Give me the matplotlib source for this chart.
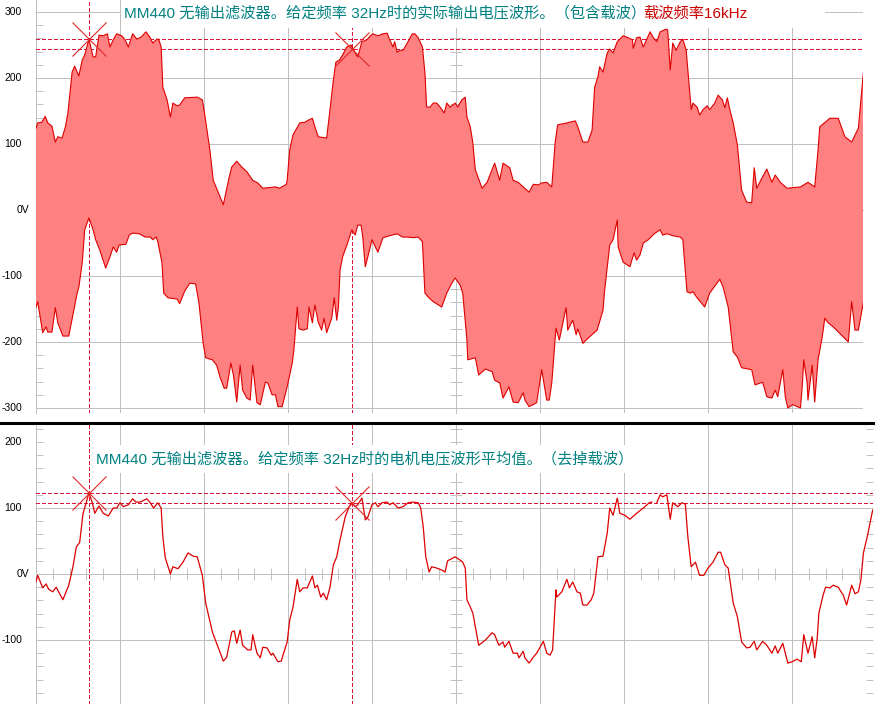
import numpy as np
import matplotlib
matplotlib.use("Agg")
import matplotlib.pyplot as plt
from matplotlib.ticker import MultipleLocator
from matplotlib.patches import Rectangle
from matplotlib.lines import Line2D

# 上图：含载波的输出电压（包络上沿 / 下沿），时间 ms，电压 V
t_up = [0.0, 0.2, 0.7, 1.1, 1.4, 1.9, 2.3, 2.6, 3.1, 3.5,
        3.8, 4.3, 4.6, 5.1, 5.5, 5.8, 6.3, 6.8, 7.1, 7.5,
        8.0, 8.5, 8.8, 9.2, 9.6, 10.2, 10.6, 11.0, 11.5, 12.0,
        12.5, 13.1, 13.6, 13.9, 14.4, 14.6, 14.9, 15.1, 15.6, 16.0,
        16.3, 16.8, 17.1, 17.7, 19.2, 19.8, 20.0, 20.4, 20.7, 21.1,
        22.3, 23.0, 23.3, 23.9, 24.5, 25.1, 25.8, 26.4, 27.0, 28.5,
        29.0, 29.8, 29.9, 30.2, 30.6, 31.4, 32.0, 32.4, 32.9, 33.2,
        33.6, 34.6, 35.0, 35.4, 35.7, 36.1, 36.5, 37.0, 37.5, 38.0,
        38.3, 38.8, 39.4, 39.8, 40.1, 40.7, 41.3, 41.8, 42.1, 42.5,
        42.7, 43.0, 43.3, 43.7, 44.2, 44.8, 45.1, 45.5, 46.0, 46.3,
        46.5, 46.9, 47.3, 47.7, 48.1, 48.6, 48.9, 49.3, 49.9, 50.2,
        50.7, 51.1, 51.3, 51.7, 52.0, 52.3, 53.1, 53.7, 54.6, 55.2,
        55.6, 56.4, 56.8, 57.4, 58.0, 58.7, 59.2, 59.8, 60.2, 60.8,
        61.4, 61.8, 62.1, 63.2, 64.2, 64.5, 65.1, 65.7, 66.2, 66.5,
        66.9, 67.1, 67.5, 68.0, 68.3, 68.7, 69.2, 69.9, 70.5, 71.0,
        71.1, 71.5, 71.9, 72.3, 73.1, 73.5, 73.9, 74.3, 75.0, 75.2,
        75.5, 75.8, 76.2, 76.7, 77.0, 77.4, 77.6, 78.0, 78.2, 78.7,
        79.0, 79.4, 79.9, 80.2, 80.8, 81.2, 81.7, 82.0, 82.3, 82.6,
        83.0, 83.5, 84.0, 84.6, 85.2, 85.5, 85.8, 86.4, 87.0, 87.6,
        88.0, 88.6, 89.4, 91.0, 91.9, 92.7, 93.1, 93.3, 94.5, 95.5,
        96.3, 97.1, 97.9, 98.5]
v_up = [124, 132, 133, 142, 132, 127, 103, 111, 109, 126,
        147, 209, 218, 203, 227, 235, 259, 232, 232, 265,
        264, 267, 247, 258, 267, 264, 258, 247, 267, 259,
        262, 270, 261, 253, 259, 259, 247, 186, 167, 141,
        162, 158, 159, 170, 171, 167, 152, 117, 91, 45,
        8, 50, 65, 74, 65, 58, 45, 41, 33, 35,
        33, 39, 45, 91, 114, 132, 133, 136, 139, 126,
        111, 109, 152, 197, 224, 227, 235, 247, 250, 238,
        232, 255, 258, 264, 267, 264, 267, 268, 258, 247,
        255, 239, 242, 242, 253, 267, 267, 261, 247, 208,
        156, 156, 162, 162, 156, 147, 162, 156, 162, 156,
        167, 171, 141, 126, 102, 61, 33, 42, 71, 45,
        71, 64, 45, 42, 35, 27, 39, 38, 41, 42,
        35, 102, 129, 132, 135, 126, 103, 103, 121, 186,
        202, 217, 209, 238, 244, 238, 255, 264, 261, 258,
        245, 261, 262, 247, 270, 261, 255, 270, 274, 273,
        212, 253, 242, 255, 259, 242, 212, 152, 162, 156,
        144, 152, 158, 152, 162, 174, 167, 155, 170, 152,
        132, 98, 30, 12, 11, 64, 33, 48, 62, 42,
        53, 42, 33, 35, 42, 35, 91, 126, 139, 139,
        111, 103, 124, 209]

t_lo = [0.0, 0.2, 0.8, 1.2, 1.4, 1.9, 2.3, 2.6, 3.2, 3.9,
        4.5, 4.9, 5.1, 5.5, 5.8, 6.3, 6.8, 7.1, 7.6, 8.3,
        8.8, 9.2, 9.6, 9.9, 10.7, 11.1, 11.5, 12.3, 13.0, 13.6,
        13.9, 14.3, 14.5, 15.0, 15.2, 15.7, 16.8, 17.1, 17.7, 18.3,
        19.0, 19.4, 19.9, 20.2, 21.0, 21.5, 21.9, 22.4, 22.7, 23.2,
        23.5, 23.9, 24.3, 24.6, 25.1, 25.5, 25.8, 26.3, 26.7, 27.3,
        27.6, 28.1, 28.5, 28.8, 29.3, 29.9, 30.5, 30.7, 31.1, 31.3,
        31.8, 32.3, 32.5, 32.9, 33.2, 33.6, 34.0, 34.3, 34.6, 35.2,
        35.5, 35.8, 36.0, 36.2, 36.5, 37.1, 37.6, 38.0, 38.3, 38.7,
        38.9, 39.2, 39.5, 40.0, 40.1, 40.7, 41.3, 42.1, 43.0, 43.6,
        44.3, 44.9, 45.5, 46.0, 46.3, 46.7, 47.3, 48.3, 48.9, 49.5,
        49.9, 50.5, 50.8, 51.3, 51.4, 52.3, 52.7, 53.5, 54.3, 54.6,
        55.2, 55.6, 56.3, 56.8, 57.4, 58.0, 58.2, 58.7, 59.6, 60.2,
        60.8, 61.1, 61.4, 61.9, 62.3, 63.1, 63.3, 63.9, 64.3, 64.5,
        65.1, 66.0, 66.8, 67.5, 67.7, 68.3, 68.7, 69.2, 69.3, 69.9,
        70.7, 71.2, 71.5, 71.9, 72.3, 72.9, 73.6, 74.3, 74.6, 75.1,
        75.8, 76.7, 77.0, 77.5, 77.9, 78.2, 78.7, 79.6, 80.2, 81.4,
        81.8, 82.4, 83.0, 83.5, 84.0, 85.2, 85.6, 86.5, 87.0, 87.6,
        88.0, 88.3, 88.9, 89.2, 89.5, 90.1, 91.0, 91.2, 91.4, 91.8,
        91.9, 92.4, 92.7, 93.1, 93.6, 93.9, 94.3, 94.9, 96.7, 97.1,
        97.5, 97.9, 98.5]
v_lo = [-147, -139, -186, -177, -185, -185, -148, -171, -191, -191,
        -152, -126, -117, -80, -30, -12, -30, -45, -61, -88,
        -71, -56, -64, -53, -52, -38, -35, -36, -41, -41,
        -45, -41, -48, -80, -126, -133, -135, -142, -123, -111,
        -112, -141, -202, -224, -227, -235, -253, -270, -270, -232,
        -250, -291, -235, -273, -285, -288, -235, -292, -295, -261,
        -262, -280, -280, -298, -298, -268, -232, -212, -147, -180,
        -182, -180, -147, -171, -144, -170, -182, -164, -186, -164,
        -133, -167, -147, -91, -71, -50, -30, -38, -23, -23,
        -41, -86, -71, -45, -48, -64, -42, -39, -36, -41,
        -41, -42, -41, -48, -126, -132, -139, -147, -126, -111,
        -103, -114, -126, -197, -227, -224, -250, -241, -245, -258,
        -262, -285, -268, -291, -292, -277, -288, -298, -292, -242,
        -288, -288, -262, -179, -197, -148, -182, -167, -189, -180,
        -202, -191, -182, -152, -121, -53, -45, -15, -56, -79,
        -86, -65, -76, -68, -50, -45, -36, -30, -38, -36,
        -39, -41, -45, -124, -126, -124, -133, -147, -126, -105,
        -117, -147, -215, -223, -239, -242, -265, -261, -283, -285,
        -273, -283, -242, -283, -300, -295, -300, -270, -227, -262,
        -288, -235, -291, -227, -192, -164, -171, -177, -200, -139,
        -182, -182, -139]

# 下图：去掉载波后的电机电压平均值
t_avg = [0.0, 0.2, 0.8, 1.2, 1.5, 2.0, 2.4, 3.2, 3.9, 4.4,
         4.8, 5.2, 5.6, 6.0, 6.3, 6.7, 7.0, 7.5, 8.0, 8.6,
         9.2, 9.6, 10.0, 10.4, 11.0, 11.5, 11.9, 12.4, 13.2, 13.6,
         14.0, 14.5, 14.9, 15.1, 15.4, 16.0, 16.3, 16.9, 17.5, 18.1,
         18.7, 19.2, 19.8, 20.2, 21.0, 21.5, 22.3, 22.7, 23.3, 23.6,
         23.9, 24.3, 24.6, 25.2, 25.6, 25.8, 26.3, 26.7, 27.0, 27.5,
         28.0, 28.2, 28.8, 29.2, 29.4, 29.9, 30.2, 30.6, 31.1, 31.4,
         31.8, 32.3, 32.9, 33.2, 33.5, 33.9, 34.2, 34.6, 35.0, 35.4,
         35.8, 36.2, 36.8, 37.3, 37.6, 38.0, 38.3, 38.8, 39.2, 39.5,
         40.0, 40.4, 40.7, 41.2, 41.8, 42.1, 42.5, 43.1, 43.7, 44.3,
         44.9, 45.5, 45.8, 46.1, 46.4, 46.8, 47.1, 47.7, 48.3, 48.7,
         49.0, 49.9, 50.5, 50.8, 51.1, 51.3, 51.7, 52.0, 52.7, 53.5,
         54.3, 54.6, 55.1, 55.6, 55.8, 56.3, 56.8, 57.3, 57.5, 58.0,
         58.2, 58.7, 59.2, 59.6, 60.4, 60.8, 61.2, 61.5, 61.9, 62.0,
         62.6, 63.2, 63.5, 63.9, 64.4, 64.8, 65.1, 65.6, 66.1, 66.4,
         66.9, 67.5, 68.0, 68.3, 68.7, 69.2, 69.5, 70.1, 70.7, 71.5,
         72.3, 73.0, 73.3, 73.6, 73.9, 74.3, 74.6, 75.1, 75.5, 75.8,
         76.4, 76.9, 77.3, 77.6, 78.0, 78.5, 79.0, 79.5, 80.0, 80.6,
         81.2, 81.5, 82.0, 82.4, 83.0, 83.5, 84.0, 84.6, 85.0, 85.5,
         85.8, 86.5, 87.0, 87.6, 88.0, 88.3, 88.9, 89.5, 90.0, 90.6,
         91.1, 91.4, 91.9, 92.4, 92.7, 93.0, 93.2, 93.7, 94.0, 94.5,
         94.9, 95.5, 96.1, 96.5, 97.1, 97.5, 97.9, 98.2, 98.5, 99.0,
         99.6]
v_avg = [-12, -2, -21, -15, -23, -27, -20, -39, -17, 11,
         41, 48, 92, 109, 123, 108, 92, 103, 92, 88,
         100, 100, 108, 102, 105, 114, 109, 109, 114, 108,
         100, 108, 100, 56, 24, 0, 11, 8, 18, 32,
         27, 26, -2, -44, -88, -105, -132, -126, -88, -86,
         -105, -85, -108, -115, -115, -92, -120, -127, -111, -112,
         -123, -120, -133, -132, -123, -103, -70, -50, -8, -27,
         -21, -21, -3, -21, -17, -35, -29, -39, -20, 14,
         26, 52, 86, 103, 108, 102, 105, 115, 82, 86,
         105, 108, 102, 108, 109, 105, 108, 100, 102, 108,
         109, 108, 100, 71, 26, 3, 11, 9, 6, 3,
         20, 26, 21, 18, 9, -39, -50, -59, -108, -100,
         -89, -92, -108, -103, -111, -102, -120, -120, -127, -117,
         -127, -135, -126, -120, -102, -120, -123, -115, -24, -35,
         -27, -8, -21, -12, -27, -29, -47, -47, -39, -29,
         26, 27, 62, 100, 89, 115, 92, 89, 83, 92,
         100, 108, 109, np.nan, 108, 120, 117, 120, 83, 108,
         102, 108, 106, 56, 11, 18, -2, -2, 9, 18,
         33, 33, 14, 9, -44, -65, -103, -112, -111, -102,
         -115, -102, -108, -120, -109, -120, -105, -135, -133, -129,
         -133, -92, -120, -95, -127, -97, -59, -32, -20, -21,
         -17, -20, -32, -47, -17, -30, -27, -9, 32, 59,
         97]

# 光标
cursor_t = [6.31, 37.56]
top_cursor_v = [258.6, 243.5]
bot_cursor_v = [122.3, 107.1]

top_labels = [300, 200, 100, 0, -100, -200, -300]
bot_labels = [200, 100, 0, -100]
bot_grid_v = [100, -100]

title_top = "MM440 无输出滤波器。给定频率 32Hz时的实际输出电压波形。（包含载波）"
title_top_red = "载波频率16kHz"
title_bot = "MM440 无输出滤波器。给定频率 32Hz时的电机电压波形平均值。（去掉载波）"

GRAY = "#c0c0c0"
RED = "#dd0000"
DASH = "#dc143c"
CJK = ["Liberation Sans", "Noto Sans CJK SC", "DejaVu Sans"]
LW = 0.7  # 约 1 像素

W, H = 883, 704
fig = plt.figure(figsize=(W / 100, H / 100), dpi=100)
fig.patch.set_facecolor("white")

ax1 = fig.add_axes([36 / W, 1 - 413 / H, 827 / W, 413 / H])
ax2 = fig.add_axes([36 / W, 0, 837 / W, 279 / H])


def style_axes(ax, xmax, ylo, yhi, right_ticks):
    ax.set_xlim(0, xmax)
    ax.set_ylim(ylo, yhi)
    ax.set_axisbelow(True)
    ax.patch.set_alpha(0)
    for s in ["top", "right"]:
        ax.spines[s].set_visible(False)
    for s in ["left", "bottom"]:
        ax.spines[s].set_color(GRAY)
        ax.spines[s].set_linewidth(LW)
        ax.spines[s].set_zorder(0.6)
        ax.spines[s].set_antialiased(False)
    ax.spines["bottom"].set_position(("data", 0))
    ax.xaxis.set_major_locator(MultipleLocator(10))
    ax.xaxis.set_minor_locator(MultipleLocator(2))
    ax.yaxis.set_major_locator(MultipleLocator(100))
    ax.yaxis.set_minor_locator(MultipleLocator(20))
    ax.tick_params(axis="x", which="both", direction="inout", length=8.6,
                   width=LW, color=GRAY, labelbottom=False)
    ax.tick_params(axis="y", which="both", direction="in", length=5,
                   width=LW, color=GRAY, labelleft=False, right=right_ticks,
                   labelright=False)
    ax.grid(axis="x", which="major", color=GRAY, lw=LW, antialiased=False)
    # 中间的纵轴（t = 50 ms）
    sec = ax.secondary_yaxis(50 / xmax)
    sec.yaxis.set_major_locator(MultipleLocator(100))
    sec.yaxis.set_minor_locator(MultipleLocator(20))
    sec.tick_params(which="both", direction="inout", length=8.6, width=LW,
                    color=GRAY, labelright=False, labelleft=False)
    sec.spines["right"].set_color(GRAY)
    sec.spines["right"].set_linewidth(LW)
    sec.spines["right"].set_antialiased(False)


def y_labels(ax, values):
    for v in values:
        if v == 0:
            ax.annotate("0V", xy=(0, v), xycoords=("axes fraction", "data"),
                        xytext=(-13.9, 0), textcoords="offset points",
                        ha="left", va="center", fontsize=7.5,
                        family="Liberation Sans")
        else:
            ax.annotate(str(v), xy=(0, v), xycoords=("axes fraction", "data"),
                        xytext=(-10.1, 0), textcoords="offset points",
                        ha="right", va="center", fontsize=7.5,
                        family="Liberation Sans")


def cursors(ax, levels):
    for t in cursor_t:
        ax.axvline(t, color=DASH, lw=LW, dashes=(4, 3), zorder=0.9,
                   antialiased=False)
    for v in levels:
        ax.axhline(v, color=DASH, lw=LW, dashes=(4, 3), zorder=0.9,
                   antialiased=False)
    ax.plot(cursor_t, levels, ls="none", marker="x", ms=24.5, mew=0.8,
            color="#e02828", zorder=3)


# ---------------- 上图 ----------------
style_axes(ax1, 98.45, -307.6, 318.2, right_ticks=False)
ax1.grid(axis="y", which="major", color=GRAY, lw=LW, antialiased=False)
cursors(ax1, top_cursor_v)
ax1.fill(np.r_[t_up, t_lo[::-1]], np.r_[v_up, v_lo[::-1]],
         color="#ff8080", lw=0, zorder=1)
ax1.plot(t_up, v_up, color=RED, lw=0.8, zorder=2)
ax1.plot(t_lo, v_lo, color=RED, lw=0.8, zorder=2)
ax1.add_patch(Rectangle((10.1, 275.8), 83.8, 45, fc="white", ec="none",
                        zorder=2.5))
ax1.text(10.48, 298, title_top, color="#008080", fontsize=11, family=CJK,
         ha="left", va="center", zorder=4)
ax1.text(72.26, 298, title_top_red, color="#cc0000", fontsize=11,
         family=CJK, ha="left", va="center", zorder=4)
y_labels(ax1, top_labels)

# ---------------- 下图 ----------------
style_axes(ax2, 99.64, -197, 225.8, right_ticks=True)
for v in bot_grid_v:
    ax2.axhline(v, color=GRAY, lw=LW, zorder=0.5, antialiased=False)
cursors(ax2, bot_cursor_v)
ax2.plot(t_avg, v_avg, color=RED, lw=0.9, zorder=2)
ax2.add_patch(Rectangle((6.9, 153), 63.8, 42.5, fc="white", ec="none",
                        zorder=2.5))
ax2.text(7.14, 174, title_bot, color="#008080", fontsize=10.95, family=CJK,
         ha="left", va="center", zorder=4)
y_labels(ax2, bot_labels)

# 两图之间的黑色分隔线
fig.add_artist(Line2D([0, 873 / W], [1 - 423.3 / H] * 2, color="black",
                      lw=2.2, transform=fig.transFigure))

fig.savefig("out.png", dpi=100, facecolor="white")
